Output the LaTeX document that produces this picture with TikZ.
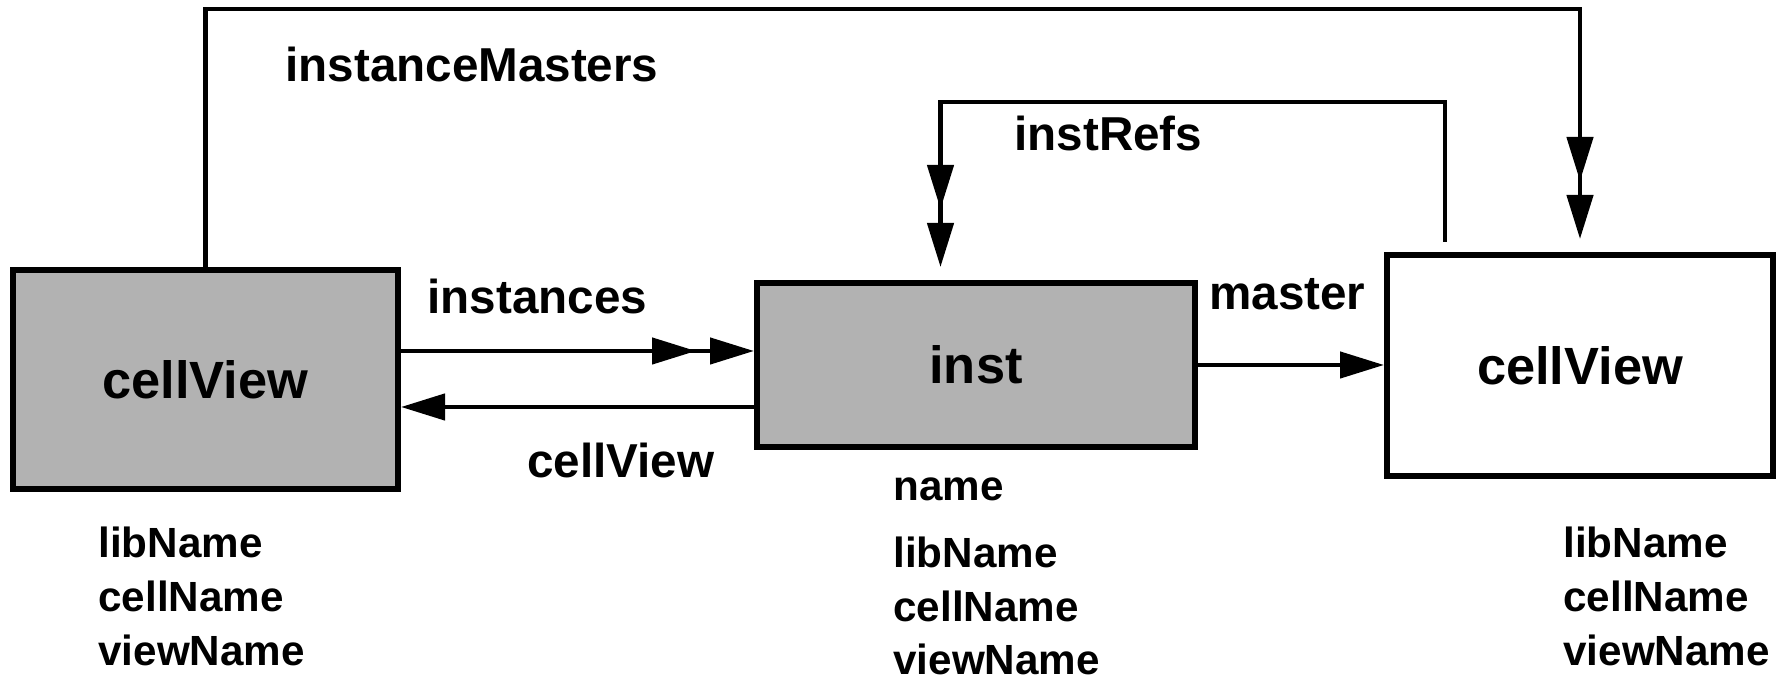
\documentclass[tikz,border=0pt]{standalone}
\usepackage{fontspec}
\setmainfont{Liberation Sans}
\usetikzlibrary{arrows.meta}

\begin{document}
\begin{tikzpicture}[x=0.5pt, y=-0.5pt,
  box/.style={draw, line width=3pt, inner sep=0pt, font=\fontsize{26.2}{30}\selectfont\bfseries},
  greybox/.style={box, fill=black!30},
  lbl/.style={anchor=base west, inner sep=0pt, font=\fontsize{23.8}{28}\selectfont\bfseries},
  attr/.style={anchor=base west, inner sep=0pt, font=\fontsize{21.1}{25}\selectfont\bfseries},
  con/.style={line width=2.25pt, -{Triangle[length=22pt,width=13pt]}},
  dbl/.style={line width=2.25pt, -{Triangle[length=22pt,width=13pt,sep=7pt]Triangle[length=22pt,width=13pt]}}]
\useasboundingbox (0,0) rectangle (1785,683);

% Kaesten
\node[greybox, minimum width=192.5pt, minimum height=109.5pt] (cvleft) at (205.5,379.5) {cellView}; % links
\node[greybox, minimum width=219pt, minimum height=82pt] (inst) at (976,365) {inst}; % Mitte
\node[box, minimum width=193pt, minimum height=110.5pt] (cvright) at (1580,365.5) {cellView}; % rechts

% Verbindungen
\draw[dbl] (cvleft.east |- 0,351) -- (inst.west |- 0,351); % instances
\draw[con] (inst.west |- 0,407) -- (cvleft.east |- 0,407); % cellView
\draw[con] (inst.east) -- (inst.east -| cvright.west); % master
\draw[dbl, shorten >=6.5pt] (cvleft.north) -- (cvleft.north |- 0,9) -- (cvright.north |- 0,9) -- (cvright.north); % instanceMasters
\coordinate (refs) at (1445,102);
\coordinate (refsin) at (940.5,102);
\draw[dbl, shorten <=5pt, shorten >=6.5pt] (cvright.north -| refs) -- (refs) -- (refsin) -- (inst.north -| refsin); % instRefs

% Beschriftungen
\node[lbl] (lmasters) at (285,82) {instanceMasters};
\node[lbl] (lrefs) at (1014,151) {instRefs};
\node[lbl] (linst) at (427,314) {instances};
\node[lbl] (lcv) at (527,478) {cellView};
\node[lbl] (lmaster) at (1209,310) {master};

% Attribute
\node[attr] (al1) at (98,558) {libName};
\node[attr] (al2) at (98,612) {cellName};
\node[attr] (al3) at (98,666) {viewName};

\node[attr] (am0) at (893,501) {name};
\node[attr] (am1) at (893,568) {libName};
\node[attr] (am2) at (893,622) {cellName};
\node[attr] (am3) at (893,675) {viewName};

\node[attr] (ar1) at (1563,558) {libName};
\node[attr] (ar2) at (1563,612) {cellName};
\node[attr] (ar3) at (1563,666) {viewName};

\end{tikzpicture}
\end{document}
